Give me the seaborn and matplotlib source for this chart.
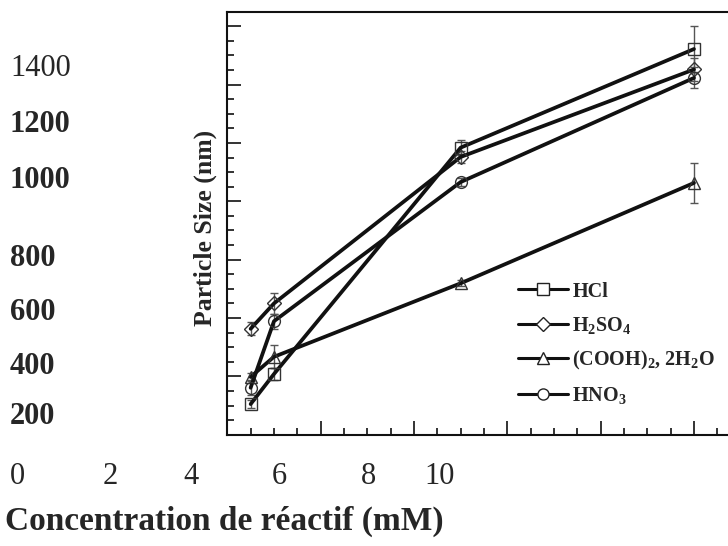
import matplotlib
matplotlib.use("Agg")
import matplotlib.pyplot as plt
from matplotlib.lines import Line2D
from matplotlib.ticker import MultipleLocator
import seaborn as sns
import pandas as pd

# Données
concentration = [0.5, 1, 5, 10]
hcl = [305, 408, 1184, 1522]
hcl_err = [15, 20, 25, 80]
h2so4 = [563, 650, 1152, 1452]
h2so4_err = [22, 36, 20, 40]
cooh = [398, 467, 719, 1063]
cooh_err = [15, 40, 10, 70]
hno3 = [361, 589, 1066, 1423]
hno3_err = [25, 26, 15, 36]

series_labels = ["HCl", r"H$_\mathbf{2}$SO$_\mathbf{4}$",
                 r"(COOH)$_\mathbf{2}$, 2H$_\mathbf{2}$O", r"HNO$_\mathbf{3}$"]
series_markers = ["s", "D", "^", "o"]

# étiquettes flottantes (texte d'origine, mal alignées)
y_label_texts = ["1400", "1200", "1000", "800", "600", "400", "200"]
x_label_texts = ["0", "2", "4", "6", "8", "10"]

sns.set_style("ticks")
plt.rcParams["font.family"] = ["Liberation Serif", "DejaVu Serif"]
plt.rcParams["mathtext.fontset"] = "custom"
plt.rcParams["mathtext.rm"] = "Liberation Serif:bold"
plt.rcParams["mathtext.bf"] = "Liberation Serif:bold"
plt.rcParams["mathtext.it"] = "Liberation Serif:bold"

df = pd.DataFrame({
    "conc": concentration * 4,
    "size": hcl + h2so4 + cooh + hno3,
    "err": hcl_err + h2so4_err + cooh_err + hno3_err,
    "acid": sum([[lab] * 4 for lab in series_labels], []),
})

fig = plt.figure(figsize=(7.28, 5.46), dpi=100)
ax = fig.add_axes([227.3 / 728, 111.3 / 546, 504 / 728, 423 / 546])

handles = []
for lab, mk in zip(series_labels, series_markers):
    sub = df[df["acid"] == lab]
    ax.errorbar(sub["conc"], sub["size"], yerr=sub["err"], fmt="none",
                ecolor="#555555", elinewidth=1, capsize=3, capthick=1, zorder=1)
    sns.lineplot(data=sub, x="conc", y="size", ax=ax, color="#111111",
                 linewidth=2.7, marker=mk, markersize=8.5 if mk != "D" else 7.5,
                 markerfacecolor="none", markeredgecolor="#333333",
                 markeredgewidth=1, legend=False, zorder=2)
    handles.append(Line2D([], [], color="#111111", lw=2.2, marker=mk,
                          markersize=8 if mk != "D" else 7,
                          markerfacecolor="white", markeredgecolor="#222222",
                          markeredgewidth=1, label=lab))

ax.set_xlim(0, 10.8)
ax.set_ylim(200, 1650)
ax.xaxis.set_major_locator(MultipleLocator(2))
ax.xaxis.set_minor_locator(MultipleLocator(0.5))
ax.yaxis.set_major_locator(MultipleLocator(200))
ax.yaxis.set_minor_locator(MultipleLocator(50))
ax.tick_params(which="both", direction="in", color="#111111", width=1.2,
               labelbottom=False, labelleft=False)
ax.tick_params(which="major", length=10)
ax.tick_params(which="minor", length=5)
for sp in ax.spines.values():
    sp.set_linewidth(1.5)
    sp.set_color("#111111")
ax.set_xlabel("")
ax.set_ylabel("")

ax.legend(handles=handles, loc="upper left", bbox_to_anchor=(0.541, 0.405),
          frameon=False, handlelength=2.5, handletextpad=0.2, labelspacing=0.65,
          prop={"weight": "bold", "size": 14.5})

# textes des axes
fig.text(205 / 728, 1 - 228 / 546, "Particle Size (nm)", rotation=90,
         ha="center", va="center", fontsize=18.5, fontweight="bold")
y_text_pos = [68, 125, 181, 258, 312, 367, 417]
for txt, yp in zip(y_label_texts, y_text_pos):
    fig.text(10 / 728, 1 - yp / 546, txt, ha="left", va="center", fontsize=22,
             fontweight="normal" if txt == "1400" else "bold")
x_text_pos = [17, 110, 191, 279, 368, 440]
for txt, xp in zip(x_label_texts, x_text_pos):
    fig.text(xp / 728, 1 - 476 / 546, txt, ha="center", va="center", fontsize=22)
fig.text(5 / 728, 1 - 521 / 546, "Concentration de réactif (mM)", ha="left",
         va="center", fontsize=24, fontweight="bold")

fig.savefig("out.png", dpi=100)
